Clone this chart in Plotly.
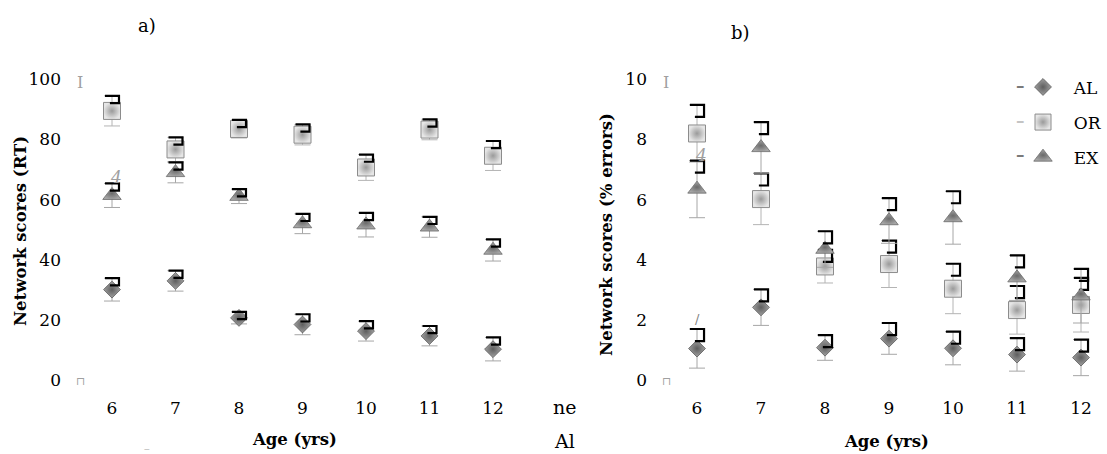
import plotly.graph_objects as go

W, H = 1107, 454

ages = [6, 7, 8, 9, 10, 11, 12]
tick_vals_rt = [0, 20, 40, 60, 80, 100]
tick_vals_err = [0, 2, 4, 6, 8, 10]
series_names = ["AL", "OR", "EX"]

# Panel a) Network scores (RT)
rt_al = [30.1, 33.0, 20.7, 18.5, 16.3, 14.7, 10.3]
rt_al_err = [3.8, 3.4, 2.0, 3.4, 3.3, 3.3, 3.9]
rt_or = [89.5, 76.7, 83.5, 81.6, 70.7, 83.3, 74.6]
rt_or_err = [5.0, 4.0, 3.0, 3.4, 4.3, 3.4, 4.9]
rt_ex = [61.4, 69.0, 61.1, 52.0, 51.6, 50.9, 43.2]
rt_ex_err = [4.0, 3.4, 2.4, 3.3, 4.0, 3.4, 3.6]

# Panel b) Network scores (% errors)
er_al = [1.05, 2.42, 1.08, 1.38, 1.06, 0.85, 0.75]
er_al_err = [0.65, 0.6, 0.42, 0.52, 0.55, 0.55, 0.6]
er_or = [8.2, 6.02, 3.78, 3.86, 3.04, 2.33, 2.5]
er_or_err = [0.95, 0.85, 0.55, 0.78, 0.83, 0.8, 0.9]
er_ex = [6.35, 7.73, 4.35, 5.3, 5.4, 3.4, 2.8]
er_ex_err = [0.95, 0.85, 0.6, 0.75, 0.88, 0.75, 0.9]

SERIF = "DejaVu Serif"

def px(x):
    return x / W

def py(y):
    return 1 - y / H

# plot-area geometry (pixels)
top_px, bot_px = 70, 395
L_x0, L_x1 = 66, 530
R_x0, R_x1 = 652, 1100
L_x6, L_step = 112, 63.5
R_x6, R_step = 697, 64.0
y0_px, y_top_px = 379.5, 76  # pixel of value 0 and of value max

def xrange(x0, x1, x6, step):
    return [6 - (x6 - x0) / step, 6 + (x1 - x6) / step]

def yrange(vmax):
    s = (y0_px - y_top_px) / vmax
    return [-(bot_px - y0_px) / s, (y0_px - top_px) / s]

styles = {
    "AL": dict(symbol="diamond", size=13, color="#a0a0a0",
               gradient=dict(type="radial", color="#5e5e5e"),
               line=dict(color="#5a5a5a", width=0.8)),
    "OR": dict(symbol="square", size=17, color="#e6e6e6",
               gradient=dict(type="radial", color="#9a9a9a"),
               line=dict(color="#8c8c8c", width=1)),
    "EX": dict(symbol="triangle-up", size=16, color="#a6a6a6",
               gradient=dict(type="radial", color="#6a6a6a"),
               line=dict(color="#6a6a6a", width=0.8)),
}
err_colors = {"AL": "#a6a6a6", "OR": "#b4b4b4", "EX": "#a6a6a6"}

fig = go.Figure()

def add_panel(vals, errs, xa, ya, showlegend, bw, bh):
    for name, v, e in zip(series_names, vals, errs):
        bx, by = [], []
        for a, val, er in zip(ages, v, e):
            t = val + er
            bx += [a - bw, a + bw, a + bw, a - bw * 0.3, None]
            by += [t, t, t - bh, t - bh, None]
        fig.add_trace(go.Scatter(
            x=ages, y=v, mode="markers", name="\u00a0\u00a0" + name, xaxis=xa, yaxis=ya,
            legendgroup=name, showlegend=showlegend,
            error_y=dict(type="data", array=e, visible=True, color=err_colors[name],
                         thickness=1, width=8),
            marker=styles[name],
        ))
        fig.add_trace(go.Scatter(
            x=bx, y=by, mode="lines", xaxis=xa, yaxis=ya,
            line=dict(color="black", width=2.2), showlegend=False, hoverinfo="skip"))

add_panel([rt_al, rt_or, rt_ex], [rt_al_err, rt_or_err, rt_ex_err], "x", "y", False, 0.11, 2.4)
add_panel([er_al, er_or, er_ex], [er_al_err, er_or_err, er_ex_err], "x2", "y2", True, 0.11, 0.4)

axis_font = dict(family=SERIF, size=17, color="black")
common = dict(showgrid=False, zeroline=False, showline=False, ticks="")

fig.update_layout(
    width=W, height=H,
    margin=dict(l=0, r=0, t=0, b=0),
    paper_bgcolor="white", plot_bgcolor="white",
    xaxis=dict(domain=[px(L_x0), px(L_x1)], range=xrange(L_x0, L_x1, L_x6, L_step),
               tickvals=ages, tickfont=axis_font, anchor="y", **common),
    yaxis=dict(domain=[py(bot_px), py(top_px)], range=yrange(100),
               tickvals=tick_vals_rt, tickfont=axis_font, anchor="x",
               ticklabelstandoff=4, **common),
    xaxis2=dict(domain=[px(R_x0), px(R_x1)], range=xrange(R_x0, R_x1, R_x6, R_step),
                tickvals=ages, tickfont=axis_font, anchor="y2", **common),
    yaxis2=dict(domain=[py(bot_px), py(top_px)], range=yrange(10),
                tickvals=tick_vals_err, tickfont=axis_font, anchor="x2",
                ticklabelstandoff=4, **common),
    legend=dict(x=px(1023), y=py(66), xanchor="left", yanchor="top",
                font=dict(family=SERIF, size=17, color="black"),
                bgcolor="rgba(0,0,0,0)", tracegroupgap=10, borderwidth=0),
    showlegend=True,
)

def ann(text, x, y, size=17, bold=False, angle=0, color="black", italic=False):
    t = f"<b>{text}</b>" if bold else text
    if italic:
        t = f"<i>{t}</i>"
    fig.add_annotation(text=t, x=px(x), y=py(y), xref="paper", yref="paper",
                       showarrow=False, textangle=angle,
                       font=dict(family=SERIF, size=size, color=color),
                       xanchor="center", yanchor="middle")

ann("a)", 147, 22, size=18)
ann("b)", 740, 29, size=18)
ann("Network scores (RT)", 21, 229, size=16.5, bold=True, angle=-90)
ann("Network scores (% errors)", 607, 233, size=16.5, bold=True, angle=-90)
ann("Age (yrs)", 294, 439, size=16.5, bold=True)
ann("Age (yrs)", 886, 441, size=16.5, bold=True)
ann("ne", 564, 407, size=19)
ann("Al", 564, 441, size=19)
# legend dashes
ann("<b>–</b>", 1021, 83, size=17, color="#7a7a7a")
ann("<b>–</b>", 1021, 118, size=17, color="#c4c4c4")
ann("<b>–</b>", 1021, 152, size=17, color="#7a7a7a")
# small stray glyph artifacts of the original rendering
ann("I", 80, 79, size=16, color="#a0a0a0")
ann("⊓", 80, 381, size=11, color="#a0a0a0")
ann("I", 666, 79, size=16, color="#a0a0a0")
ann("⊓", 666, 381, size=11, color="#a0a0a0")
ann("4", 116, 175, size=17, color="#a0a0a0", italic=True)
ann("4", 701, 152, size=17, color="#a0a0a0", italic=True)
ann("/", 697, 318, size=13, color="#808080")
ann("‒", 147, 449, size=9, color="#b0b0b0")

fig.write_html("out.html", config={"displayModeBar": False},
               post_script="document.body.style.margin='0';")
